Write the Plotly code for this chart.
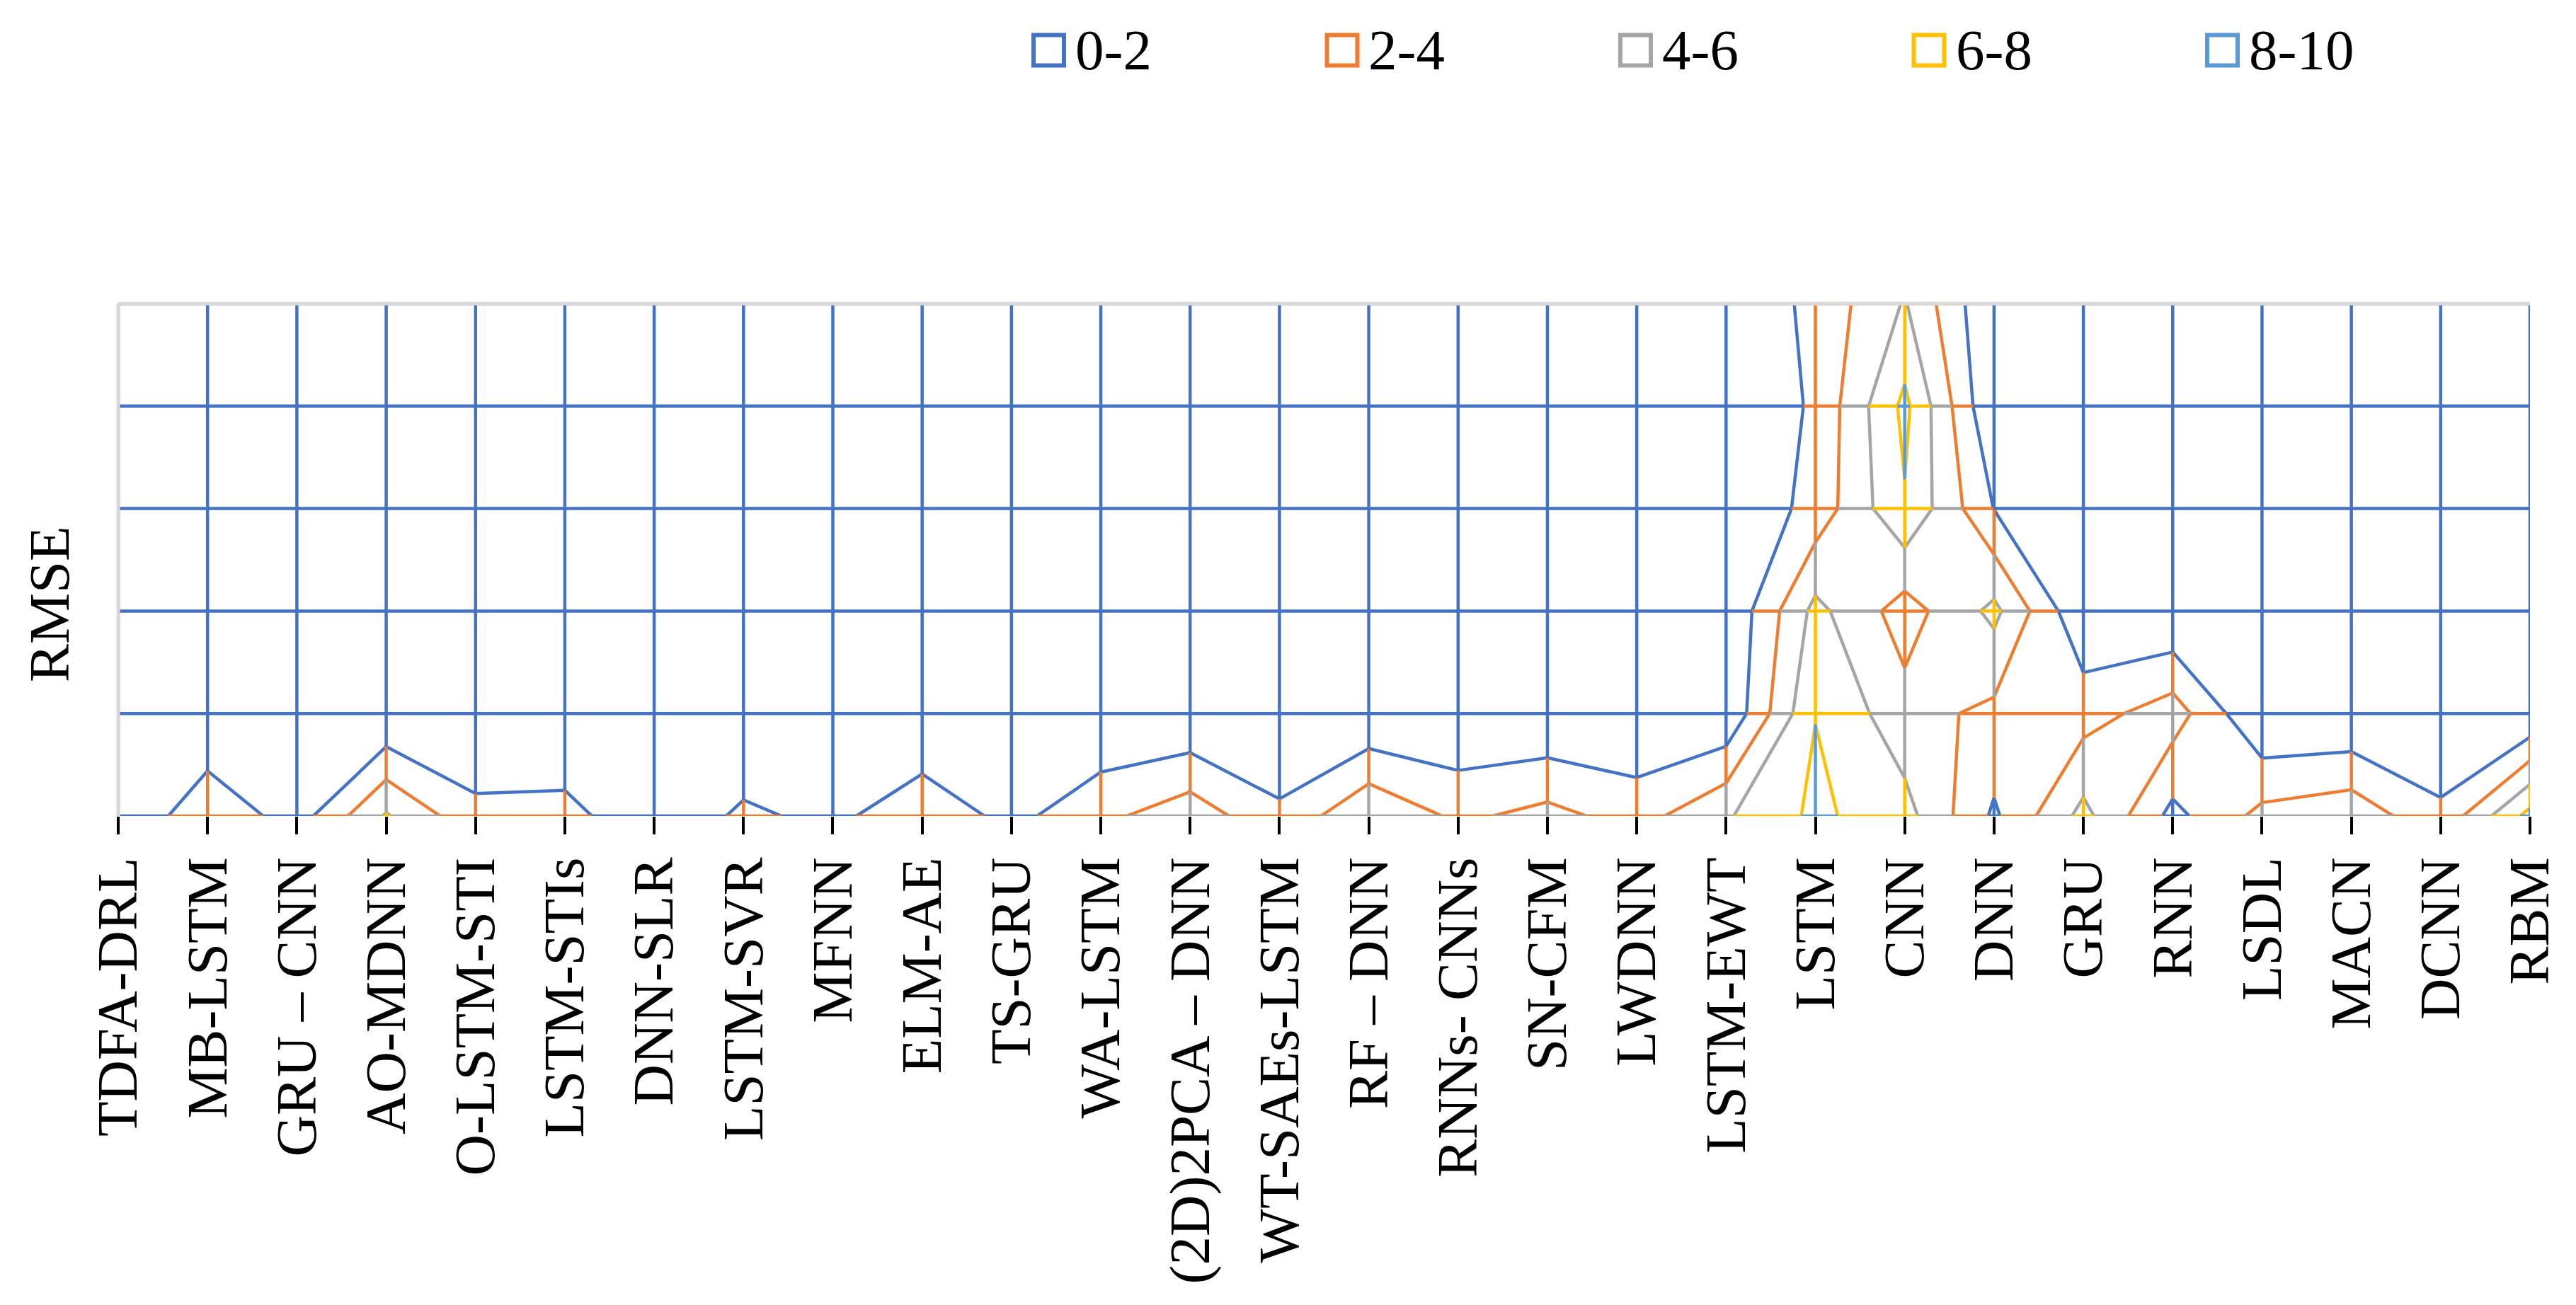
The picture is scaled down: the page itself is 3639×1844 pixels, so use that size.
import plotly.graph_objects as go

# ---------------- data ----------------
categories = ["TDFA-DRL", "MB-LSTM", "GRU – CNN", "AO-MDNN", "O-LSTM-STI", "LSTM-STIs",
              "DNN-SLR", "LSTM-SVR", "MFNN", "ELM-AE", "TS-GRU", "WA-LSTM",
              "(2D)2PCA – DNN", "WT-SAEs-LSTM", "RF – DNN", "RNNs- CNNs", "SN-CFM",
              "LWDNN", "LSTM-EWT", "LSTM", "CNN", "DNN", "GRU", "RNN", "LSDL",
              "MACN", "DCNN", "RBM"]

# surface rows (series axis, bottom -> top), RMSE values per category
series1 = [0.0, 3.57, 1.05, 6.2, 2.56, 2.67, 0.45, 2.37, 1.5, 3.39, 1.4, 3.5, 5.23, 2.4,
           5.84, 3.6, 4.63, 3.2, 5.77, 8.42, 6.74, 1.67, 6.63, 1.4, 4.6, 5.38, 2.44, 8.69]
series2 = [0, 0, 0, 0, 0, 0, 0, 0, 0, 0, 0, 0, 0, 0,
           0, 0, 0, 0, 0.22, 7.95, 4.74, 3.52, 3.17, 5.0, 0, 0, 0, 0]
series3 = [0, 0, 0, 0, 0, 0, 0, 0, 0, 0, 0, 0, 0, 0,
           0, 0, 0, 0, 0.13, 6.58, 3.08, 6.52, 0.24, 0, 0, 0, 0, 0]
series4 = [0, 0, 0, 0, 0, 0, 0, 0, 0, 0, 0, 0, 0, 0,
           0, 0, 0, 0, 0, 2.73, 7.8, 1.95, 0, 0, 0, 0, 0, 0]
series5 = [0, 0, 0, 0, 0, 0, 0, 0, 0, 0, 0, 0, 0, 0,
           0, 0, 0, 0, 0, 2.31, 8.5, 0, 0, 0, 0, 0, 0, 0]
series6 = [0, 0, 0, 0, 0, 0, 0, 0, 0, 0, 0, 0, 0, 0,
           0, 0, 0, 0, 0.2, 2.56, 6.16, 0, 0, 0, 0, 0, 0, 0]

band_labels = ["0-2", "2-4", "4-6", "6-8", "8-10"]
band_levels = [2, 4, 6, 8]

# ---------------- styles ----------------
band_colors = ["#4472C4", "#ED7D31", "#A5A5A5", "#FFC000", "#5B9BD5"]
FONT = "Liberation Serif, Times New Roman, serif"
FS = 81
LW = 4.5
W, H = 3639, 1844
ML, MR, MT, MB = 167, 65, 429, 691
PW, PH = W - ML - MR, H - MT - MB

z = [series1, series2, series3, series4, series5, series6]
xs = list(range(len(categories)))
ys = list(range(len(z)))

fig = go.Figure()

# ---- wireframe mesh coloured by value band ----
def band_of(v):
    return max(0, min(int(v // 2), len(band_labels) - 1))

mesh_x = [[] for _ in band_labels]
mesh_y = [[] for _ in band_labels]

def add_segment(x0, y0, v0, x1, y1, v1):
    ts = [0.0, 1.0]
    for L in band_levels:
        if (v0 - L) * (v1 - L) < 0:
            ts.append((L - v0) / (v1 - v0))
    ts.sort()
    for a, b in zip(ts[:-1], ts[1:]):
        if b - a < 1e-9:
            continue
        vm = v0 + (a + b) / 2 * (v1 - v0)
        k = band_of(vm)
        mesh_x[k] += [x0 + a * (x1 - x0), x0 + b * (x1 - x0), None]
        mesh_y[k] += [y0 + a * (y1 - y0), y0 + b * (y1 - y0), None]

for r in ys:
    for c in xs[:-1]:
        add_segment(xs[c], ys[r], z[r][c], xs[c + 1], ys[r], z[r][c + 1])
for c in xs:
    for r in ys[:-1]:
        add_segment(xs[c], ys[r], z[r][c], xs[c], ys[r + 1], z[r + 1][c])

for k, col in enumerate(band_colors):
    fig.add_trace(go.Scatter(x=mesh_x[k], y=mesh_y[k], mode="lines",
                             line=dict(color=col, width=LW),
                             showlegend=False, hoverinfo="skip"))

# ---- contour lines (boundary of each band drawn in the lower band colour) ----
for i, L in enumerate(band_levels):
    col = band_colors[i]
    fig.add_trace(go.Contour(
        z=z, x=xs, y=ys, autocontour=False,
        contours=dict(start=L, end=L, size=2, coloring="lines", showlabels=False),
        colorscale=[[0, col], [1, col]], showscale=False,
        line=dict(width=LW, smoothing=0), hoverinfo="skip", showlegend=False))

# ---- legend (hollow squares + labels) ----
shapes = [
    dict(type="line", xref="paper", yref="paper", x0=0, x1=0, y0=0, y1=1,
         line=dict(color="#D9D9D9", width=5), layer="above"),
    dict(type="line", xref="paper", yref="paper", x0=0, x1=1, y0=1, y1=1,
         line=dict(color="#D9D9D9", width=5), layer="above"),
]
annotations = []
LEG_X0, LEG_STEP, SQ = 1460, 414.5, 43   # pixel positions of legend entries
LEG_YC = 71
def px_to_paper_x(px):
    return (px - ML) / PW
def px_to_paper_y(py):
    return (H - MB - py) / PH
for i, (lab, col) in enumerate(zip(band_labels, band_colors)):
    x0 = LEG_X0 + i * LEG_STEP
    shapes.append(dict(type="rect", xref="paper", yref="paper",
                       x0=px_to_paper_x(x0), x1=px_to_paper_x(x0 + SQ),
                       y0=px_to_paper_y(LEG_YC + SQ / 2), y1=px_to_paper_y(LEG_YC - SQ / 2),
                       line=dict(color=col, width=6), fillcolor="rgba(0,0,0,0)"))
    annotations.append(dict(text=lab, xref="paper", yref="paper", showarrow=False,
                            x=px_to_paper_x(x0 + SQ + 14), y=px_to_paper_y(LEG_YC),
                            xanchor="left", yanchor="middle",
                            font=dict(family=FONT, size=FS, color="black")))

annotations.append(dict(text="RMSE", xref="paper", yref="paper", showarrow=False,
                        x=px_to_paper_x(70), y=px_to_paper_y(854), textangle=-90,
                        xanchor="center", yanchor="middle",
                        font=dict(family=FONT, size=FS, color="black")))

fig.update_layout(
    width=W, height=H,
    margin=dict(l=ML, r=MR, t=MT, b=MB),
    paper_bgcolor="white", plot_bgcolor="white",
    font=dict(family=FONT, size=FS, color="black"),
    showlegend=False,
    shapes=shapes, annotations=annotations,
)

fig.update_xaxes(range=[xs[0], xs[-1]], tickvals=xs, ticktext=categories, tickangle=-90,
                 ticks="outside", ticklen=25, tickwidth=4, tickcolor="black",
                 showgrid=False, zeroline=False, showline=False, automargin=False,
                 tickfont=dict(family=FONT, size=FS, color="black"))
fig.update_yaxes(range=[ys[0], ys[-1]], showticklabels=False, ticks="",
                 showgrid=False, zeroline=False, showline=False, automargin=False)

fig.write_html("out.html", config={"displayModeBar": False},
               post_script="document.body.style.margin='0';")
